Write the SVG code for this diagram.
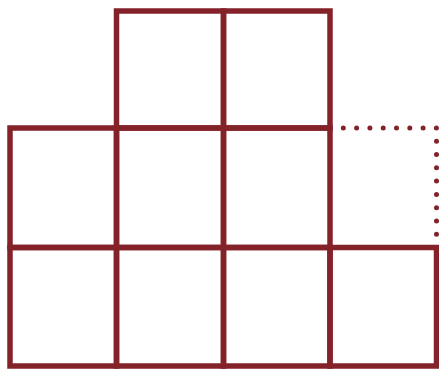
<svg xmlns="http://www.w3.org/2000/svg" width="439" height="370" viewBox="0 0 439 370">
<style>
.c{fill:none;stroke:#84222a;stroke-width:5.5;stroke-linecap:square}
.d{fill:none;stroke:#84222a;stroke-width:5;stroke-linecap:round;stroke-dasharray:0 13.3}
</style>
<rect width="439" height="370" fill="#fff"/>
<g id="top-row">
<rect class="c" x="116.5" y="11" width="107" height="117"/>
<rect class="c" x="223.5" y="11" width="106.5" height="117"/>
</g>
<g id="middle-row">
<rect class="c" x="10" y="128" width="106.5" height="119.5"/>
<rect class="c" x="116.5" y="128" width="107" height="119.5"/>
<rect class="c" x="223.5" y="128" width="106.5" height="119.5"/>
<path class="d" d="M330,128 H436.5 V247.5"/>
</g>
<g id="bottom-row">
<rect class="c" x="10" y="247.5" width="106.5" height="118.5"/>
<rect class="c" x="116.5" y="247.5" width="107" height="118.5"/>
<rect class="c" x="223.5" y="247.5" width="106.5" height="118.5"/>
<rect class="c" x="330" y="247.5" width="106.5" height="118.5"/>
</g>
</svg>
